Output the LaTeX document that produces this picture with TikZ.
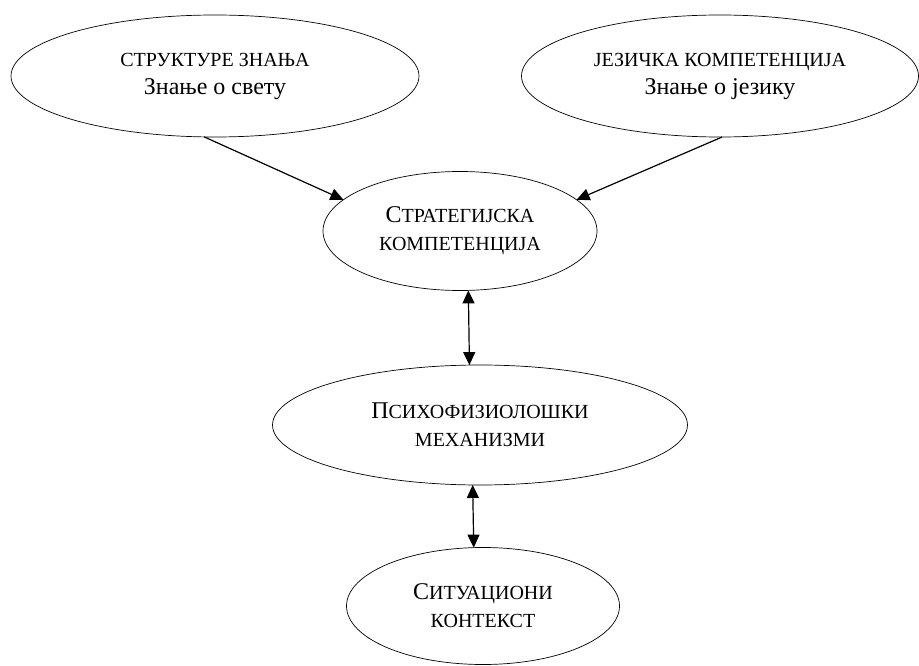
\documentclass[tikz,border=0pt]{standalone}
\usepackage{fontspec}
\setmainfont{Liberation Serif}
\usetikzlibrary{shapes.geometric,arrows.meta}
\newcommand{\smc}[1]{{\fontsize{20}{28}\selectfont #1}}

\begin{document}
\begin{tikzpicture}[x=1pt, y=-1pt,
  bubble/.style={draw, ellipse, line width=0.7pt, inner sep=0pt, outer sep=0pt,
    align=center, font=\fontsize{24}{28}\selectfont},
  link/.style={-{Triangle[length=13pt, width=12pt]}, line width=1.2pt},
  both/.style={{Triangle[length=13pt, width=12pt]}-{Triangle[length=13pt, width=12pt]}, line width=1.2pt}]
\useasboundingbox (0,0) rectangle (919,666);
%\draw[help lines, color=gray!30, dashed] (0,0) grid[step=50] (919,666);
\node[bubble, minimum width=408, minimum height=122] (znanje) at (215,76)
  {\smc{СТРУКТУРЕ ЗНАЊА}\\Знање о свету};
\node[bubble, minimum width=397, minimum height=122] (jezik) at (720,76)
  {\smc{ЈЕЗИЧКА КОМПЕТЕНЦИЈА}\\Знање о језику};
\node[bubble, minimum width=274, minimum height=119] (strat) at (460,231)
  {С\smc{ТРАТЕГИЈСКА}\\\smc{КОМПЕТЕНЦИЈА}};
\node[bubble, minimum width=415, minimum height=120] (psiho) at (480,425)
  {П\smc{СИХОФИЗИОЛОШКИ}\\\smc{МЕХАНИЗМИ}};
\node[bubble, minimum width=273, minimum height=117] (kontekst) at (483,606)
  {С\smc{ИТУАЦИОНИ}\\\smc{КОНТЕКСТ}};
\draw[link] (znanje.260) -- (strat.165);
\draw[link] (jezik.272) -- (strat.15);
\draw[both] (strat.278) -- (psiho.100.4);
\draw[both] (psiho.263.3) -- (kontekst.99.6);
\end{tikzpicture}
\end{document}
